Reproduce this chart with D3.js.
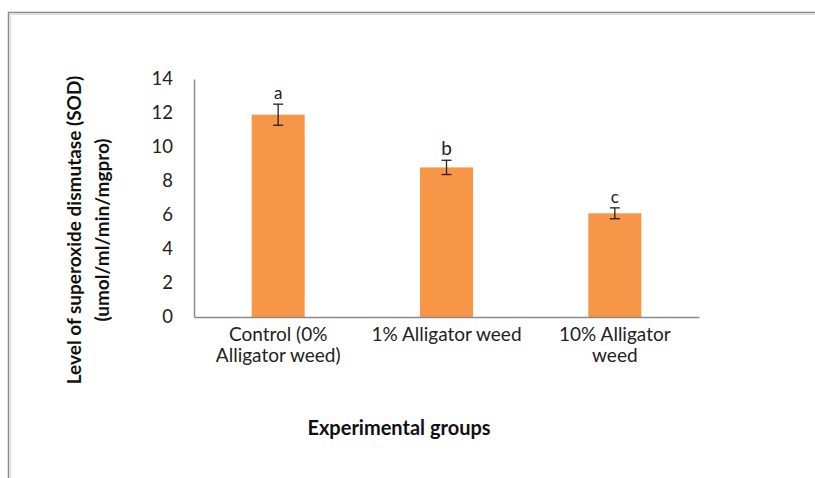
<!DOCTYPE html>
<html><head><meta charset="utf-8">
<script src="https://cdn.jsdelivr.net/npm/d3@7"></script>
<style>html,body{margin:0;padding:0;background:#fff;}svg{display:block;}</style>
</head><body>
<script>
const categories = [["Control (0%", "Alligator weed)"], ["1% Alligator weed"], ["10% Alligator", "weed"]];
const values = [11.9, 8.8, 6.1];
const errors = [0.62, 0.42, 0.32];
const letters = ["a", "b", "c"];
const yTicks = [0, 2, 4, 6, 8, 10, 12, 14];
const yTitle = ["Level of superoxide dismutase (SOD)", "(umol/ml/min/mgpro)"];
const xTitle = "Experimental groups";

const W = 815, H = 478;
const font = "Lato, 'Open Sans', sans-serif";
const svg = d3.select("body").append("svg").attr("width", W).attr("height", H);

// frame
svg.append("path").attr("d", `M8.5,${H} V12.5 H${W}`).attr("fill","none").attr("stroke","#8a8a8a").attr("stroke-width",1.5);
svg.append("path").attr("d", `M10.5,${H} V14.5 H${W}`).attr("fill","none").attr("stroke","#dcdcdc").attr("stroke-width",1);

const x0 = 194, x1 = 699, yTop = 79, yBot = 317;
const x = d3.scaleBand().domain(d3.range(categories.length)).range([x0, x1]).paddingInner(0.685).paddingOuter(0.3425);
const y = d3.scaleLinear().domain([0, 14]).range([yBot, yTop]);

// bars
svg.selectAll("rect.bar").data(values).join("rect").attr("class","bar")
  .attr("x",(d,i)=>x(i)).attr("width",x.bandwidth())
  .attr("y",d=>y(d)).attr("height",d=>y(0)-y(d)).attr("fill","#F79646");

// error bars
const eb = svg.append("g").attr("stroke","#222").attr("stroke-width",1.3);
values.forEach((v,i)=>{
  const cx = x(i)+x.bandwidth()/2;
  eb.append("line").attr("x1",cx).attr("x2",cx).attr("y1",y(v+errors[i])).attr("y2",y(v-errors[i]));
  eb.append("line").attr("x1",cx-5).attr("x2",cx+5).attr("y1",y(v+errors[i])).attr("y2",y(v+errors[i]));
  eb.append("line").attr("x1",cx-5).attr("x2",cx+5).attr("y1",y(v-errors[i])).attr("y2",y(v-errors[i]));
  svg.append("text").attr("x",cx).attr("y",y(v+errors[i])-5).attr("text-anchor","middle")
    .attr("font-family",font).attr("font-size",i===1?19:17).attr("fill","#222").text(letters[i]);
});

// axes
const yAxis = svg.append("g").attr("transform",`translate(${x0},0)`)
  .call(d3.axisLeft(y).tickValues(yTicks).tickSize(0).tickPadding(21).tickFormat(d3.format("d")));
yAxis.select(".domain").attr("stroke","#8a8a8a").attr("stroke-width",1.5);
yAxis.selectAll("text").attr("font-family",font).attr("font-size",18.5).attr("fill","#222");

const xAxis = svg.append("g").attr("transform",`translate(0,${yBot})`)
  .call(d3.axisBottom(x).tickSize(0).tickFormat(""));
xAxis.select(".domain").attr("stroke","#8a8a8a").attr("stroke-width",1.5);
xAxis.selectAll(".tick").each(function(d){
  const g = d3.select(this);
  categories[d].forEach((line,j)=>{
    g.append("text").attr("fill","#222").attr("font-family",font).attr("font-size",19).attr("text-anchor","middle")
      .attr("x",0).attr("y",24+j*21).text(line);
  });
});

// titles
svg.append("text").attr("x",399).attr("y",435).attr("text-anchor","middle")
  .attr("font-family",font).attr("font-weight","bold").attr("font-size",20).attr("fill","#111").text(xTitle);
yTitle.forEach((line,j)=>{
  svg.append("text").attr("transform",`translate(${81+j*28},230) rotate(-90)`).attr("text-anchor","middle")
    .attr("font-family",font).attr("font-weight","bold").attr("font-size",19).attr("fill","#111").text(line);
});
</script>
</body></html>
